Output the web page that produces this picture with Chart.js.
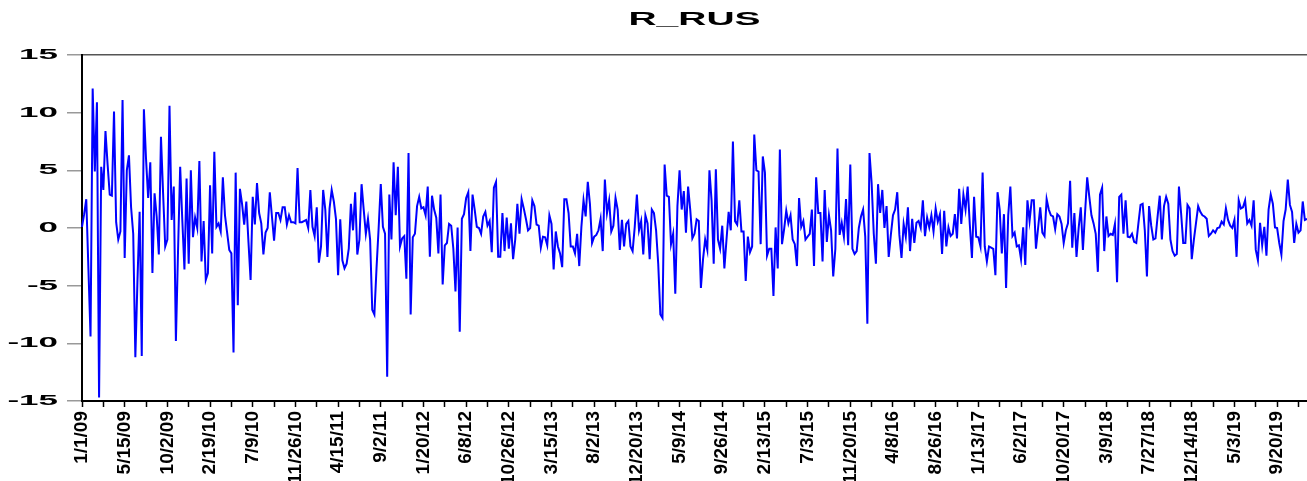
<!DOCTYPE html>
<html>
<head>
<meta charset="utf-8">
<script src="https://cdn.jsdelivr.net/npm/chart.js@4"></script>
<style>
html,body{margin:0;padding:0;background:#fff;}
#wrap{width:1307px;height:481px;position:relative;}
</style>
</head>
<body>
<div id="wrap"><canvas id="c" width="1307" height="481"></canvas></div>
<script>
const chartTitle = 'R_RUS';
const tickLabels = ['1/1/09','5/15/09','10/2/09','2/19/10','7/9/10','11/26/10','4/15/11','9/2/11','1/20/12','6/8/12','10/26/12','3/15/13','8/2/13','12/20/13','5/9/14','9/26/14','2/13/15','7/3/15','11/20/15','4/8/16','8/26/16','1/13/17','6/2/17','10/20/17','3/9/18','7/27/18','12/14/18','5/3/19','9/20/19'];
const labelEvery = 20;
const minorEvery = 10;
const yMin = -15, yMax = 15, yStep = 5;

const values2009_2010 = [0.1,1.2,2.5,-3.5,-9.4,12.1,4.9,10.9,-14.7,5.3,3.3,8.4,5.5,2.9,2.8,10.1,0.5,-1.0,-0.3,11.1,
-2.6,5.0,6.3,1.8,-0.5,-11.2,-4.5,1.4,-11.1,10.3,6.0,2.6,5.7,-3.9,3.0,1.0,-2.3,7.9,3.0,-1.6,
-1.0,10.6,0.7,3.6,-9.8,-2.0,5.3,0.7,-3.6,4.3,-3.1,5.0,-0.8,0.9,0.0,5.8,-2.9,0.6,-4.5,-3.9,
3.7,-2.2,6.6,0.1,0.4,-0.3,4.4,1.1,-0.4,-1.9,-2.2,-10.8,4.8,-6.7,3.4,2.1,0.3,2.3,-1.2,-4.5,
2.7,0.3,3.9,1.3,0.4,-2.3,-0.4,0.0,3.1,1.0,-1.1,1.3,1.3,0.7,1.8,1.8,0.3,1.1];
const values2011_2013 = [0.5,0.5,0.4,5.2,0.5,0.5,0.6,0.7,0.0,3.3,0.1,-0.7,1.8,-3.0,-1.6,3.3,1.6,-2.5,1.7,3.3,
2.3,0.8,-4.1,0.75,-2.8,-3.5,-3.1,-1.8,2.1,-0.2,3.1,-2.3,-1.0,3.8,1.6,-0.5,0.8,-1.0,-7.1,-7.5,
-3.5,0.0,3.8,0.1,-0.5,-12.9,2.9,-1.0,5.7,1.1,5.3,-1.6,-0.9,-0.7,-4.4,6.5,-7.5,-0.8,-0.5,1.9,
2.7,1.7,1.8,1.1,3.6,-2.5,2.8,1.6,0.9,-2.2,2.9,-4.9,-1.5,-1.3,0.35,0.2,-1.8,-5.5,0.05,-9.0,
0.8,1.2,2.6,3.1,-2.0,2.9,1.6,0.1,0.0,-0.5,1.0,1.4,0.2,0.6,-2.1,3.5,4.0,-2.5,-2.5,1.3,
-2.0,0.9,-1.8,0.4,-2.7,-1.0,2.1,-0.5,2.5,1.7,0.8,-0.2,0.0,2.4,1.9,0.3,0.2,-1.7,-0.75];
const values2013_2015 = [-0.8,-1.5,1.1,0.35,-3.6,-0.3,-1.6,-2.2,-3.4,2.5,2.5,1.3,-1.6,-1.6,-2.2,-0.5,-3.3,0.1,2.4,1.0,
4.0,2.1,-1.3,-0.75,-0.6,-0.2,0.8,-2.0,4.2,1.3,2.4,-0.3,0.2,2.6,1.6,-1.9,0.7,-1.6,0.35,0.6,
-1.6,-2.0,0.1,2.9,-0.2,0.6,-2.3,1.1,0.4,-2.7,1.6,1.3,-0.2,-3.1,-7.5,-7.8,5.5,2.8,2.7,-1.4,
-0.5,-5.7,1.9,5.0,1.6,3.2,-0.4,3.6,1.6,-0.9,-0.5,0.75,0.6,-5.2,-2.7,-1.0,-1.9,5.0,2.4,-3.1,
5.1,-1.0,-1.8,0.2,-3.5,-1.0,1.4,-0.2,7.5,0.6,0.3,2.4,-0.3,-0.3,-4.6,-0.75,-2.1,-1.6,8.1,5.0,
4.9,-1.4,6.2,4.8,-2.4,-1.8,-1.8,-5.9,0.05,-3.5,6.8,-1.4,-0.1,1.5,0.4,1.1,-1.0,-1.4,-3.3,2.6];
const values2015_2017 = [0.1,0.6,-1.0,-0.75,-0.5,1.6,-3.3,4.4,1.3,1.3,-2.9,3.3,-1.2,1.1,-0.2,-4.2,-1.8,6.9,-0.6,0.45,
-0.75,2.5,-1.5,5.5,-1.8,-2.25,-2.0,0.0,1.0,1.6,-0.75,-8.3,6.5,3.9,-0.5,-3.1,3.8,1.3,3.3,0.0,
1.9,-2.5,-0.6,1.1,1.6,3.1,-0.6,-2.6,0.35,-0.75,1.8,-2.0,0.8,-1.3,0.45,0.6,0.0,2.4,-0.7,0.9,
0.05,1.1,-0.3,1.7,0.55,1.2,-2.25,1.5,-1.6,0.05,-0.7,-0.5,1.2,-0.9,3.4,0.35,2.9,1.6,3.6,0.3,
-2.6,2.7,-0.75,-0.8,-1.6,4.8,-1.6,-2.9,-1.6,-1.7,-1.8,-4.1,3.1,1.6,-2.2,1.2,-5.2,1.1,3.6,-0.7,
-0.4,-1.6,-1.5,-2.7,0.05,-3.2,2.4,0.6,2.4,2.4,-1.8,0.0,1.8,-0.4,-0.7,2.5,1.6,1.1,1.0];
const values2017_2019 = [-0.1,1.2,1.0,0.35,-1.3,-0.2,0.4,4.1,-1.7,1.3,-2.5,0.0,1.8,-1.9,1.3,4.4,2.7,1.1,0.4,-0.5,
-3.8,2.9,3.5,-2.0,1.0,-0.7,-0.5,-0.6,0.35,-4.7,2.7,2.9,-0.5,2.4,-0.75,-0.8,-0.5,-1.2,-1.3,0.4,
2.0,2.1,-0.2,-4.2,1.9,0.2,-1.0,-0.9,1.0,2.8,-1.0,1.9,2.7,2.1,-1.0,-2.0,-2.4,-2.25,3.6,1.3,
-1.3,-1.3,2.0,1.7,-2.7,-1.0,0.45,1.9,1.4,1.1,1.0,0.8,-0.7,-0.5,-0.2,-0.4,0.0,0.05,0.55,0.3,
1.7,0.7,0.2,0.0,0.7,-2.5,2.4,1.7,1.8,2.4,0.4,0.7,0.2,2.4,-1.9,-2.8,0.45,-1.5,0.1,-2.4,
1.6,2.9,2.1,0.05,0.0,-1.3,-2.3,0.6,1.6,4.2,2.0,1.4,-1.3,0.35,-0.4,-0.2,2.3,0.7,0.8];

const values = [].concat(values2009_2010, values2011_2013, values2013_2015, values2015_2017, values2017_2019);
const categories = values.map((v, i) => (i % labelEvery === 0 && tickLabels[i / labelEvery]) ? tickLabels[i / labelEvery] : '');

const FONT = '"Liberation Sans", Arial, Helvetica, sans-serif';
const Y_LABEL_STRETCH = 2.5;
const TITLE_STRETCH = 2.05;

const stretchPlugin = {
  id: 'stretchText',
  beforeDraw(chart) {
    const ys = chart.scales.y;
    if (ys && !ys._stretched) {
      const orig = ys.drawLabels;
      ys.drawLabels = function (area) {
        const ctx = this.ctx;
        const ax = this.right - this.options.grid.tickLength - this.options.ticks.padding;
        ctx.save();
        ctx.translate(ax, 0);
        ctx.scale(Y_LABEL_STRETCH, 1);
        ctx.translate(-ax, 0);
        orig.call(this, area);
        ctx.restore();
      };
      ys._stretched = true;
    }
    const tb = chart.titleBlock;
    if (tb && !tb._stretched) {
      const origT = tb.draw;
      tb.draw = function () {
        const ctx = this.ctx;
        const cx = (chart.chartArea.left + chart.chartArea.right) / 2;
        const c0 = (this.left + this.right) / 2;
        ctx.save();
        ctx.translate(cx, 0);
        ctx.scale(TITLE_STRETCH, 1);
        ctx.translate(-c0, 0);
        origT.call(this);
        ctx.restore();
      };
      tb._stretched = true;
    }
  }
};

new Chart(document.getElementById('c'), {
  type: 'line',
  data: {
    labels: categories,
    datasets: [{
      label: chartTitle,
      data: values,
      borderColor: '#0000FF',
      borderWidth: 2,
      pointRadius: 0,
      tension: 0,
      fill: false
    }]
  },
  options: {
    responsive: false,
    animation: false,
    devicePixelRatio: 1,
    layout: { padding: 0 },
    plugins: {
      legend: { display: false },
      tooltip: { enabled: false },
      title: {
        display: true,
        text: chartTitle,
        color: '#000',
        font: { family: FONT, size: 19, weight: 'bold', lineHeight: 1.2 },
        padding: { top: 8, bottom: 24.2 }
      }
    },
    scales: {
      x: {
        type: 'category',
        offset: false,
        grid: {
          drawOnChartArea: false,
          drawTicks: true,
          tickLength: 6,
          tickWidth: 1.5,
          tickColor: (c) => (c.index % minorEvery === 0) ? '#000' : 'rgba(0,0,0,0)'
        },
        border: { display: true, color: '#000', width: 2 },
        ticks: {
          autoSkip: false,
          maxRotation: 90,
          minRotation: 90,
          padding: 4,
          color: '#000',
          font: { family: FONT, size: 19, weight: 'bold' }
        },
        afterFit(s) { s.height = 80; s.paddingLeft = 0; s.paddingRight = 0; }
      },
      y: {
        min: yMin,
        max: yMax,
        ticks: {
          stepSize: yStep,
          padding: 9,
          color: '#000',
          font: { family: FONT, size: 14, weight: 'bold' }
        },
        grid: {
          drawOnChartArea: true,
          tickLength: 15,
          lineWidth: 1.5,
          color: (c) => (c.tick && c.tick.value === yMax) ? '#555' : 'rgba(0,0,0,0)',
          tickColor: '#999'
        },
        border: { display: true, color: '#000', width: 2 },
        afterFit(s) { s.width = 82; }
      }
    }
  },
  plugins: [stretchPlugin]
});
</script>
</body>
</html>
